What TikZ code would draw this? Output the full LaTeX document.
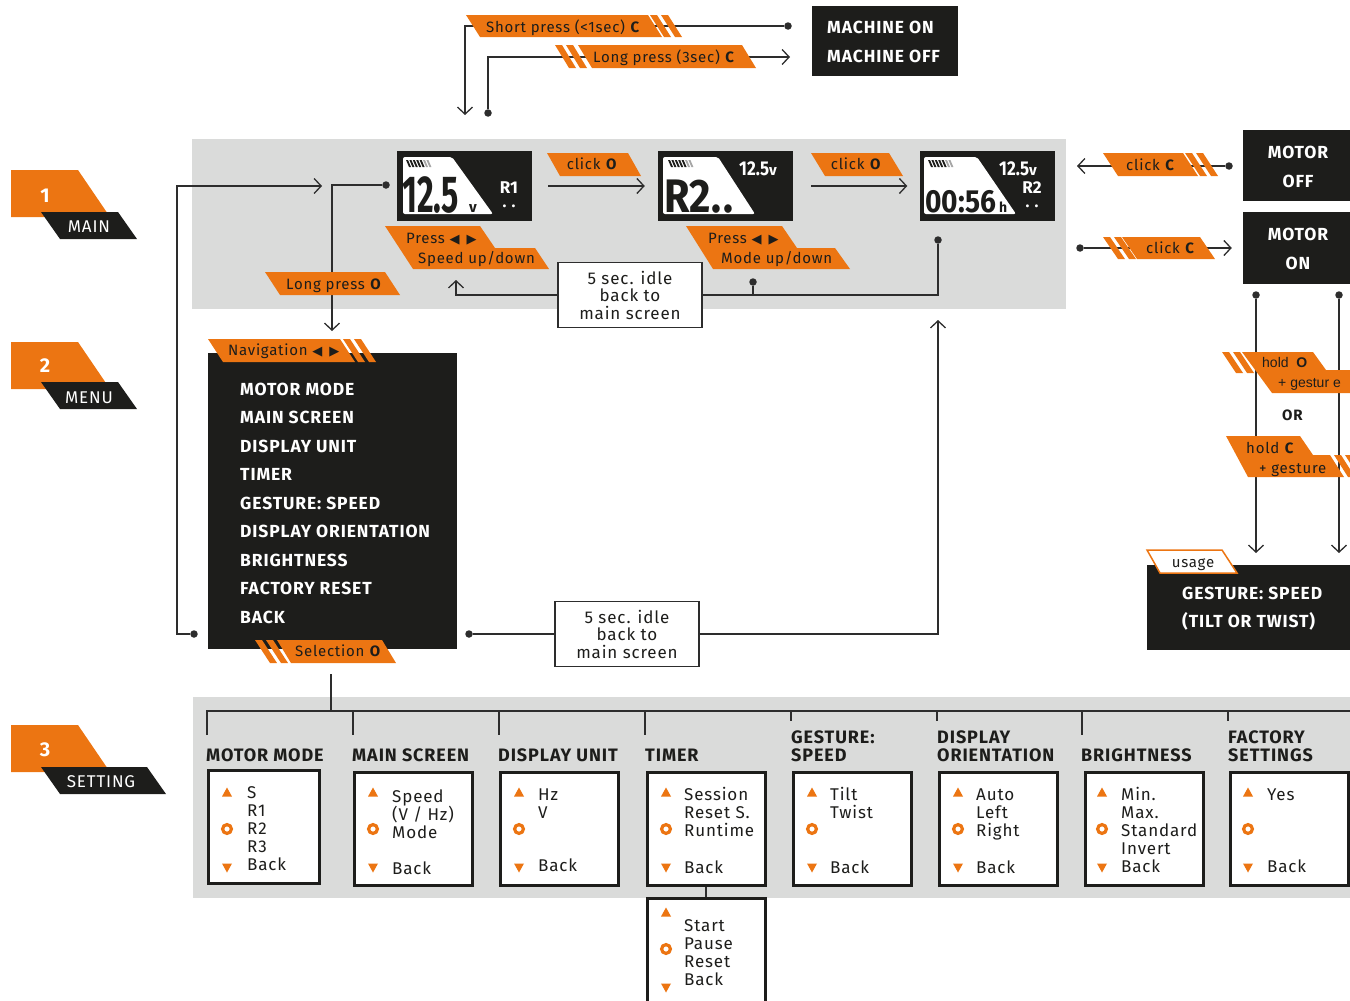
\documentclass[tikz,border=0pt]{standalone}
\usepackage{fontspec}
\setmainfont{Fira Sans}[LetterSpace=5]
\newfontfamily\bigf{Fira Sans}
\newfontfamily\symf{DejaVu Sans}
\newfontfamily\arialf{Liberation Sans}
\usetikzlibrary{arrows.meta,calc}
\definecolor{orc}{RGB}{236,117,18}
\definecolor{blk}{RGB}{29,29,27}
\definecolor{gry}{RGB}{218,219,218}
\definecolor{lnc}{RGB}{45,45,45}
\newcommand{\hsq}[2]{\scalebox{#1}[1]{#2}}
\newcommand{\pgm}[5]{\fill[orc] (#1,#2) -- (#3,#2) -- (#3+#5,#4) -- (#1+#5,#4) -- cycle;}
\newcommand{\strp}[4]{\fill[orc] (#1,#2) -- (#1+7,#2) -- (#1+7+#4,#3) -- (#1+#4,#3) -- cycle;
  \fill[orc] (#1+11,#2) -- (#1+18,#2) -- (#1+18+#4,#3) -- (#1+11+#4,#3) -- cycle;}
\newcommand{\syms}[4]{\fill[orc] (#1-5,#2+4.5) -- (#1+5,#2+4.5) -- (#1,#2-4.5) -- cycle;
  \draw[orc, line width=3.2pt] (#1,#3) circle (4.4pt);
  \fill[orc] (#1-5,#4-4.5) -- (#1+5,#4-4.5) -- (#1,#4+4.5) -- cycle;}
\newcommand{\batt}[2]{\foreach \k in {0,...,4}{\fill[blk] (#1+\k*3.4,#2) -- ++(2,0) -- ++(3,7) -- ++(-2,0) -- cycle;}
  \foreach \k in {5,6}{\fill[black!35] (#1+\k*3.4,#2) -- ++(2,0) -- ++(3,7) -- ++(-2,0) -- cycle;}}
\newcommand{\tri}{{\symf\fontsize{13}{13}\selectfont ◀\hspace{7pt}▶}}
\tikzset{
  ln/.style={draw=lnc, line width=1.3pt},
  arr/.style={ln, -{Straight Barb[length=7pt,width=15pt]}},
  dot/.style={circle, fill=lnc, inner sep=0pt, minimum size=7.5pt},
  bbox/.style={fill=blk, inner sep=0pt},
  wbold/.style={text=white, font=\fontsize{17.5}{20}\selectfont\bfseries, inner sep=0pt},
  ltxt/.style={text=blk, font=\fontsize{15}{18}\selectfont, inner sep=0pt},
  head/.style={text=blk, font=\fontsize{18}{20}\selectfont\bfseries, inner sep=0pt, anchor=base west},
  otxt/.style={text=blk, font=\fontsize{17}{20}\selectfont, inner sep=0pt, anchor=base west},
  obox/.style={draw=blk, line width=3pt, fill=white, inner sep=0pt, minimum height=113pt, minimum width=118pt},
  idle/.style={draw=lnc, line width=1.2pt, fill=white, align=center, font=\fontsize{17}{17.5}\selectfont, minimum width=144pt, minimum height=65pt, inner sep=0pt, text=blk},
  secn/.style={text=white, font=\fontsize{20}{20}\selectfont\bfseries, inner sep=0pt, anchor=base},
  secl/.style={text=white, font=\fontsize{17}{17}\selectfont, inner sep=0pt, anchor=base},
  scr/.style={bbox, minimum width=135pt, minimum height=70pt}
}
\begin{document}
\begin{tikzpicture}[x=1pt,y=-1pt]
\useasboundingbox (0,0) rectangle (1350,1001);
\clip (0,0) rectangle (1350,1001);
% panels
\fill[gry] (192,139) rectangle (1066,309);
\fill[gry] (193,697) rectangle (1352,898);

% section labels
\fill[orc] (11,170) -- (78,170) -- (110,217) -- (11,217) -- cycle;
\fill[blk] (41,212) -- (118,212) -- (137,239) -- (60,239) -- cycle;
\node[secn] (n1) at (45,202) {1};
\node[secl] (l1) at (89,232) {MAIN};
\fill[orc] (11,342) -- (78,342) -- (110,389) -- (11,389) -- cycle;
\fill[blk] (41,382) -- (118,382) -- (137,409) -- (60,409) -- cycle;
\node[secn] (n2) at (45,372) {2};
\node[secl] (l2) at (89,403) {MENU};
\fill[orc] (11,725) -- (78,725) -- (110,772) -- (11,772) -- cycle;
\fill[blk] (41,767) -- (147,767) -- (166,794) -- (60,794) -- cycle;
\node[secn] (n3) at (45,756) {3};
\node[secl] (l3) at (101,787) {SETTING};

% top: machine on/off
\node[bbox, minimum width=146pt, minimum height=70pt] (mach) at (885,41) {};
\node[wbold, anchor=base west] (machon) at (827,33) {MACHINE ON};
\node[wbold, anchor=base west] (machoff) at (827,62) {MACHINE OFF};
\node[dot] (dsp) at (788,26) {};
\coordinate (asp) at (465,115);
\draw[arr] (dsp) -| (asp);
\node[dot] (dlp) at (488,113) {};
\coordinate (alp) at (790,57);
\draw[arr] (dlp) |- (alp);
\pgm{466}{15}{648}{37}{14}
\strp{650}{15}{37}{14}
\node[ltxt, anchor=base] (tsp) at (563,32) {Short press (<1sec) \textbf{C}};
\strp{555}{45}{68}{14}
\pgm{578}{45}{742}{68}{14}
\node[ltxt, anchor=base] (tlp) at (664,62) {Long press (3sec) \textbf{C}};

% connectors of main / menu area (drawn below labels)
\node[dot] (d1) at (386,185) {};
\coordinate (mIn) at (332,331);
\draw[arr] (d1) -| (mIn);
\node[dot] (d4) at (194,634) {};
\coordinate (bIn) at (322,186);
\draw[arr] (d4) -- (177,634) |- (bIn);

% screens
\node[scr] (s1) at (464.5,186) {};
\fill[white, rounded corners=2pt] (403,157) -- (452,157) -- (493,214) -- (403,214) -- cycle;
\batt{406}{160}
\node[text=blk, font=\bigf\fontsize{52}{52}\selectfont\bfseries, inner sep=0pt, anchor=base west] (s1big) at (402,212) {\hsq{0.62}{12.5}};
\node[text=blk, font=\bigf\fontsize{15}{15}\selectfont\bfseries, inner sep=0pt, anchor=base west] (s1v) at (469,212) {v};
\node[text=white, font=\bigf\fontsize{17}{17}\selectfont\bfseries, inner sep=0pt, anchor=base] (s1r) at (509,193) {R1};
\node[text=white, font=\bigf\fontsize{16}{16}\selectfont\bfseries, inner sep=0pt, anchor=base] (s1d) at (509,207) {. .};

\node[scr] (s2) at (725.5,186) {};
\fill[white, rounded corners=2pt] (663,157) -- (718,157) -- (755,214) -- (663,214) -- cycle;
\batt{668}{160}
\node[text=blk, font=\bigf\fontsize{47}{47}\selectfont\bfseries, inner sep=0pt, anchor=base west] (s2big) at (664,212) {\hsq{0.88}{R2.\kern3pt.}};
\node[text=white, font=\bigf\fontsize{20}{20}\selectfont\bfseries, inner sep=0pt, anchor=base west] (s2v) at (739,175) {\hsq{0.85}{12.5}{\fontsize{15}{15}\selectfont v}};

\node[scr] (s3) at (987,186) {};
\fill[white, rounded corners=2pt] (924,157) -- (977,157) -- (1016,214) -- (924,214) -- cycle;
\batt{928}{160}
\node[text=blk, font=\bigf\fontsize{32}{32}\selectfont\bfseries, inner sep=0pt, anchor=base west] (s3big) at (925,212) {\hsq{0.88}{00:56}};
\node[text=blk, font=\bigf\fontsize{14}{14}\selectfont\bfseries, inner sep=0pt, anchor=base west] (s3h) at (999,212) {h};
\node[text=white, font=\bigf\fontsize{20}{20}\selectfont\bfseries, inner sep=0pt, anchor=base west] (s3v) at (999,175) {\hsq{0.85}{12.5}{\fontsize{15}{15}\selectfont v}};
\node[text=white, font=\bigf\fontsize{17}{17}\selectfont\bfseries, inner sep=0pt, anchor=base] (s3r) at (1032,193) {R2};
\node[text=white, font=\bigf\fontsize{16}{16}\selectfont\bfseries, inner sep=0pt, anchor=base] (s3d) at (1032,207) {. .};

% click O arrows
\draw[arr] ([xshift=16pt]s1.east) -- ([xshift=-13pt]s2.west);
\draw[arr] ([xshift=18pt]s2.east) -- ([xshift=-12pt]s3.west);
\pgm{547}{153}{628}{176}{13}
\node[ltxt, anchor=base] (ck1) at (592,169) {click \textbf{O}};
\pgm{811}{153}{889}{176}{14}
\node[ltxt, anchor=base] (ck2) at (856,169) {click \textbf{O}};

% idle 1
\node[idle] (idle1) at (630,295) {5 sec. idle\\back to\\main screen};
\coordinate (up1) at (456,280);
\draw[arr] (idle1.west) -| (up1);
\node[dot] (d3) at (938,240) {};
\draw[ln] (idle1.east) -| (d3);
\node[dot] (d2) at (753,282) {};
\draw[ln] (d2) -- (d2 |- idle1.east);

% press labels
\fill[orc] (385,226) -- (480,226) -- (495,248) -- (535,248) -- (549,269) -- (413,269) -- cycle;
\node[ltxt, anchor=base west] (pr1) at (406,243) {Press\ \tri};
\node[ltxt, anchor=base west] (sp1) at (418,263) {Speed up/down};
\fill[orc] (686,226) -- (782,226) -- (797,248) -- (835,248) -- (850,269) -- (713,269) -- cycle;
\node[ltxt, anchor=base west] (pr2) at (708,243) {Press\ \tri};
\node[ltxt, anchor=base west] (md2) at (721,263) {Mode up/down};
\pgm{265}{272}{385}{295}{15}
\node[ltxt, anchor=base west] (lpo) at (286,289) {Long press \textbf{O}};

% menu
\node[bbox, minimum width=249pt, minimum height=296pt] (menu) at (332.5,501) {};
\foreach \t [count=\i] in {MOTOR MODE, MAIN SCREEN, DISPLAY UNIT, TIMER, GESTURE: SPEED, DISPLAY ORIENTATION, BRIGHTNESS, FACTORY RESET, BACK}
  \node[wbold, anchor=base west] (mi\i) at (240,{395+28.5*(\i-1)}) {\t};
\pgm{208}{339}{340}{362}{15}
\strp{343}{339}{362}{15}
\node[ltxt, anchor=base west] (nav) at (228,355) {Navigation\ \tri};
\strp{255}{640}{663}{15}
\pgm{277}{640}{382}{663}{14}
\node[ltxt, anchor=base west] (sel) at (295,656) {Selection \textbf{O}};

% idle 2
\node[dot] (d5) at (469,634) {};
\node[idle] (idle2) at (627,634) {5 sec. idle\\back to\\main screen};
\draw[ln] (d5) -- (idle2);
\coordinate (up2) at (938,320);
\draw[arr] (idle2.east) -| (up2);

% settings connectors
\coordinate (selOut) at (331,674);
\draw[ln] (selOut) -- (331,711);
\draw[ln] (207,735) -- (207,711) -- (1352,711);
\foreach \x in {353,499,645,1082} \draw[ln] (\x,711) -- (\x,735);
\foreach \x in {791,937,1228} \draw[ln] (\x,711) -- (\x,721);

% headings
\node[head] (h1) at (206,761) {MOTOR MODE};
\node[head] (h2) at (352,761) {MAIN SCREEN};
\node[head] (h3) at (498,761) {DISPLAY UNIT};
\node[head] (h4) at (645,761) {TIMER};
\node[head] (h5a) at (791,743) {GESTURE:};
\node[head] (h5b) at (791,761) {SPEED};
\node[head] (h6a) at (937,743) {DISPLAY};
\node[head] (h6b) at (937,761) {ORIENTATION};
\node[head] (h7) at (1081,761) {BRIGHTNESS};
\node[head] (h8a) at (1228,743) {FACTORY};
\node[head] (h8b) at (1228,761) {SETTINGS};

% option boxes
\node[obox, minimum width=111pt] (b1) at (264,827) {};
\node[obox] (b2) at (413.5,829) {};
\node[obox] (b3) at (559.5,829) {};
\node[obox] (b4) at (706,829) {};
\node[obox] (b5) at (852,829) {};
\node[obox] (b6) at (998,829) {};
\node[obox] (b7) at (1144,829) {};
\node[obox] (b8) at (1289.5,829) {};
\node[obox] (b9) at (706,955) {};
\draw[ln] (b4.south) -- (b9.north);

\syms{227}{792}{829}{868}
\node[otxt] (o11) at (247,798) {S};
\node[otxt] (o12) at (247,816) {R1};
\node[otxt] (o13) at (247,834) {R2};
\node[otxt] (o14) at (247,852) {R3};
\node[otxt] (o15) at (247,870) {Back};

\syms{373}{792}{829}{868}
\node[otxt] (o21) at (392,802) {Speed};
\node[otxt] (o22) at (392,820) {(V / Hz)};
\node[otxt] (o23) at (392,838) {Mode};
\node[otxt] (o24) at (392,874) {Back};

\syms{519}{792}{829}{868}
\node[otxt] (o31) at (538,800) {Hz};
\node[otxt] (o32) at (538,818) {V};
\node[otxt] (o33) at (538,871) {Back};

\syms{666}{792}{829}{868}
\node[otxt] (o41) at (684,800) {Session};
\node[otxt] (o42) at (684,818) {Reset S.};
\node[otxt] (o43) at (684,836) {Runtime};
\node[otxt] (o44) at (684,873) {Back};

\syms{812}{792}{829}{868}
\node[otxt] (o51) at (830,800) {Tilt};
\node[otxt] (o52) at (830,818) {Twist};
\node[otxt] (o53) at (830,873) {Back};

\syms{958}{792}{829}{868}
\node[otxt] (o61) at (976,800) {Auto};
\node[otxt] (o62) at (976,818) {Left};
\node[otxt] (o63) at (976,836) {Right};
\node[otxt] (o64) at (976,873) {Back};

\syms{1102}{792}{829}{868}
\node[otxt] (o71) at (1121,800) {Min.};
\node[otxt] (o72) at (1121,818) {Max.};
\node[otxt] (o73) at (1121,836) {Standard};
\node[otxt] (o74) at (1121,854) {Invert};
\node[otxt] (o75) at (1121,872) {Back};

\syms{1248}{792}{829}{868}
\node[otxt] (o81) at (1267,800) {Yes};
\node[otxt] (o82) at (1267,872) {Back};

\syms{666}{912}{949}{988}
\node[otxt] (o91) at (684,931) {Start};
\node[otxt] (o92) at (684,949) {Pause};
\node[otxt] (o93) at (684,967) {Reset};
\node[otxt] (o94) at (684,985) {Back};

% right side
\node[bbox, minimum width=107pt, minimum height=71pt] (moff) at (1296.5,165.5) {};
\node[wbold, anchor=base] (moff1) at (1298,158) {MOTOR};
\node[wbold, anchor=base] (moff2) at (1298,187) {OFF};
\node[bbox, minimum width=107pt, minimum height=72pt] (mon) at (1296.5,248) {};
\node[wbold, anchor=base] (mon1) at (1298,240) {MOTOR};
\node[wbold, anchor=base] (mon2) at (1298,269) {ON};

\node[dot] (dc1) at (1229,166) {};
\coordinate (ac1) at (1077,166);
\draw[arr] (dc1) -- (ac1);
\pgm{1103}{153}{1183}{176}{15}
\strp{1185}{153}{176}{15}
\node[ltxt, anchor=base west] (cc1) at (1126,170) {click \textbf{C}};

\node[dot] (dc2) at (1080,248) {};
\draw[arr] (dc2) -- ([xshift=-11pt]mon.west);
\strp{1103}{237}{259}{15}
\pgm{1122}{237}{1200}{259}{15}
\node[ltxt, anchor=base west] (cc2) at (1146,253) {click \textbf{C}};

\node[dot] (dg1) at (1256,295) {};
\node[dot] (dg2) at (1339,295) {};
\coordinate (ag1) at (1256,553);
\coordinate (ag2) at (1339,553);
\draw[arr] (dg1) -- (ag1);
\draw[arr] (dg2) -- (ag2);

\strp{1222}{352}{373}{14}
\fill[orc] (1242,352) -- (1313,352) -- (1326,370) -- (1352,370) -- (1352,393) -- (1272,393) -- cycle;
\node[text=blk, font=\arialf\fontsize{14}{14}\selectfont, inner sep=0pt, anchor=base west] (ho1) at (1262,367) {hold\ \ \textbf{O}};
\node[text=blk, font=\arialf\fontsize{14}{14}\selectfont, inner sep=0pt, anchor=base west] (ho2) at (1278,387) {+ gestur e};
\node[text=blk, font=\fontsize{15}{15}\selectfont\bfseries, inner sep=0pt, anchor=base west] (orr) at (1282,420) {OR};
\fill[orc] (1226,436) -- (1300,436) -- (1313,455) -- (1330,455) -- (1344,477) -- (1248,477) -- cycle;
\strp{1334}{455}{477}{14}
\node[ltxt, anchor=base west] (hc1) at (1246,453) {hold \textbf{C}};
\node[ltxt, anchor=base west] (hc2) at (1259,473) {+ gesture};

\node[bbox, minimum width=206pt, minimum height=85pt] (gest) at (1250,607.5) {};
\node[wbold, anchor=base west] (g1) at (1182,599) {GESTURE: SPEED};
\node[wbold, anchor=base west] (g2) at (1182,627) {(TILT OR TWIST)};
\filldraw[fill=white, draw=orc, line width=1.5pt] (1147,550) -- (1222,550) -- (1237,573) -- (1160,573) -- cycle;
\node[ltxt, anchor=base] (us) at (1193,567) {usage};
\end{tikzpicture}
\end{document}
